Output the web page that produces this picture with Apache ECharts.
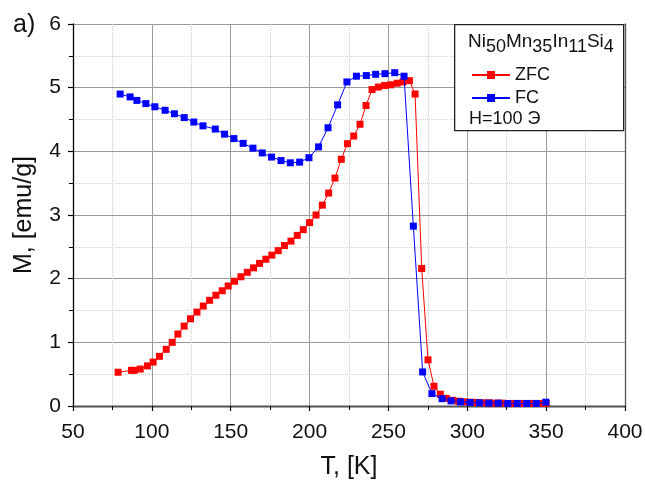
<!DOCTYPE html>
<html><head><meta charset="utf-8">
<script src="https://cdn.jsdelivr.net/npm/echarts@6.0.0/dist/echarts.min.js"></script>
<style>html,body{margin:0;padding:0;background:#fff}#c{width:645px;height:489px}</style>
</head><body><div id="c"></div><script>
// ZFC (red)
const zfcT = [78.6, 87.1, 88.8, 92.6, 97.2, 100.8, 104.8, 109.1, 112.9, 116.5, 120.5, 124.5, 128.6, 132.6, 136.6, 140.6, 144.6, 148.4, 152.4, 156.5, 160.5, 164.5, 168.3, 172.3, 176.1, 180.1, 184.1, 188.2, 192.2, 196.0, 200.0, 204.1, 208.1, 212.1, 216.1, 220.1, 224.0, 228.0, 232.0, 235.8, 239.6, 243.6, 247.6, 251.4, 255.5, 259.3, 263.3, 266.9, 271.1, 275.1, 278.9, 282.9, 286.7, 290.6, 294.5, 298.4, 302.3, 306.2, 310.1, 314, 318, 322, 326, 330, 334, 338, 342, 346, 350];
const zfcM = [0.53, 0.56, 0.56, 0.58, 0.63, 0.69, 0.78, 0.89, 1.00, 1.13, 1.255, 1.37, 1.475, 1.57, 1.66, 1.74, 1.81, 1.885, 1.96, 2.03, 2.10, 2.17, 2.24, 2.305, 2.37, 2.44, 2.52, 2.59, 2.68, 2.77, 2.88, 3.00, 3.155, 3.345, 3.58, 3.875, 4.12, 4.24, 4.425, 4.72, 4.97, 5.01, 5.035, 5.045, 5.07, 5.09, 5.11, 4.90, 2.16, 0.725, 0.31, 0.185, 0.12, 0.09, 0.075, 0.065, 0.06, 0.055, 0.05, 0.05, 0.045, 0.045, 0.04, 0.04, 0.04, 0.04, 0.04, 0.04, 0.04];
// FC (blue)
const fcT = [79.9, 86.2, 90.5, 96.2, 101.9, 108.4, 114.3, 120.5, 126.6, 132.4, 140.2, 146.1, 152.0, 157.9, 164.1, 170.0, 175.9, 181.9, 187.8, 193.7, 199.6, 205.7, 211.7, 217.8, 223.7, 229.7, 236.0, 241.9, 247.8, 254.0, 259.9, 265.8, 271.7, 277.6, 284.0, 289.7, 295.7, 301.7, 307.7, 313.7, 319.7, 325.7, 331.7, 337.7, 343.7, 349.8];
const fcM = [4.90, 4.855, 4.80, 4.75, 4.70, 4.645, 4.59, 4.53, 4.46, 4.40, 4.35, 4.27, 4.20, 4.125, 4.05, 3.975, 3.91, 3.855, 3.82, 3.83, 3.90, 4.07, 4.37, 4.73, 5.09, 5.18, 5.19, 5.21, 5.22, 5.235, 5.18, 2.825, 0.535, 0.195, 0.115, 0.08, 0.065, 0.055, 0.05, 0.045, 0.045, 0.04, 0.04, 0.04, 0.04, 0.06];
const xTicks = [50, 100, 150, 200, 250, 300, 350, 400];
const yTicks = [0, 1, 2, 3, 4, 5, 6];
const seriesNames = ['ZFC', 'FC'];

const font = '"Liberation Sans", Arial, sans-serif';
const chart = echarts.init(document.getElementById('c'), null, {renderer: 'canvas'});
const zip = (a, b) => a.map((v, i) => [v, b[i]]);

const option = {
  animation: false,
  backgroundColor: '#fff',
  title: {text: 'a)', left: 8, top: 8, textStyle: {fontSize: 25, fontWeight: 'normal', color: '#111', fontFamily: font}},
  grid: {left: 73, right: 20, top: 24, bottom: 83, outerBoundsMode: 'none', containLabel: false},
  xAxis: [{
    type: 'value', min: xTicks[0], max: xTicks[xTicks.length - 1], interval: 50, offset: 4,
    axisLine: {show: true, lineStyle: {color: '#000', width: 1.3}},
    axisTick: {show: true, inside: false, length: 5, lineStyle: {color: '#000', width: 1.2}},
    minorTick: {show: true, splitNumber: 2, length: 4, lineStyle: {color: '#000', width: 1}},
    axisLabel: {fontSize: 21, color: '#111', fontFamily: font, margin: 12},
    splitLine: {show: true, lineStyle: {color: '#9a9a9a', width: 1}},
    minorSplitLine: {show: true, lineStyle: {color: '#d0d0d0', width: 1, type: 'dotted'}},
    name: 'T, [K]', nameLocation: 'middle', nameGap: 45,
    nameTextStyle: {fontSize: 25, color: '#111', fontFamily: font}
  }, {
    type: 'value', position: 'top', min: xTicks[0], max: xTicks[xTicks.length - 1], interval: 50,
    axisLine: {show: true, lineStyle: {color: '#555', width: 1.3}},
    axisTick: {show: false}, axisLabel: {show: false}, splitLine: {show: false}
  }],
  yAxis: [{
    type: 'value', min: yTicks[0], max: yTicks[yTicks.length - 1], interval: 1,
    axisLine: {show: true, lineStyle: {color: '#000', width: 1.3}},
    axisTick: {show: true, inside: false, length: 5, lineStyle: {color: '#000', width: 1.2}},
    minorTick: {show: true, splitNumber: 2, length: 4, lineStyle: {color: '#000', width: 1}},
    axisLabel: {fontSize: 21, color: '#111', fontFamily: font, margin: 12},
    splitLine: {show: true, lineStyle: {color: '#9a9a9a', width: 1}},
    minorSplitLine: {show: true, lineStyle: {color: '#d0d0d0', width: 1, type: 'dotted'}},
    name: 'M, [emu/g]', nameLocation: 'middle', nameGap: 36,
    nameTextStyle: {fontSize: 25, color: '#111', fontFamily: font}
  }, {
    type: 'value', position: 'right', min: yTicks[0], max: yTicks[yTicks.length - 1], interval: 1,
    axisLine: {show: true, lineStyle: {color: '#555', width: 1.3}},
    axisTick: {show: false}, axisLabel: {show: false}, splitLine: {show: false}
  }],
  legend: {
    data: seriesNames, orient: 'vertical', left: 466, top: 61,
    itemWidth: 38, itemHeight: 10, itemGap: 5, z: 60,
    textStyle: {fontSize: 18, color: '#111', fontFamily: font}
  },
  graphic: [
    {type: 'rect', left: 454, top: 24, shape: {width: 169, height: 106}, z: 50,
     style: {fill: '#fff', stroke: '#222', lineWidth: 1.3}},
    {type: 'text', left: 468, top: 32, z: 51,
     style: {text: '{n|Ni}{s|50}{n|Mn}{s|35}{n|In}{s|11}{n|Si}{s|4}',
       rich: {n: {fontSize: 19, fontFamily: font, fill: '#111', padding: [0, 0, 6, 0]},
              s: {fontSize: 18, fontFamily: font, fill: '#111', padding: [6, 0, 0, 0]}}}},
    {type: 'text', left: 469, top: 110, z: 51,
     style: {text: 'H=100 Э', fontSize: 18, fontFamily: font, fill: '#111'}}
  ],
  series: [{
    name: seriesNames[0], type: 'line', data: zip(zfcT, zfcM),
    symbol: 'rect', symbolSize: 7, showAllSymbol: true,
    itemStyle: {color: '#ff0000'}, lineStyle: {color: '#ff0000', width: 1}, z: 3
  }, {
    name: seriesNames[1], type: 'line', data: zip(fcT, fcM),
    symbol: 'rect', symbolSize: 7, showAllSymbol: true,
    itemStyle: {color: '#0000ff'}, lineStyle: {color: '#0000ff', width: 1}, z: 4
  }]
};
chart.setOption(option);
</script></body></html>
